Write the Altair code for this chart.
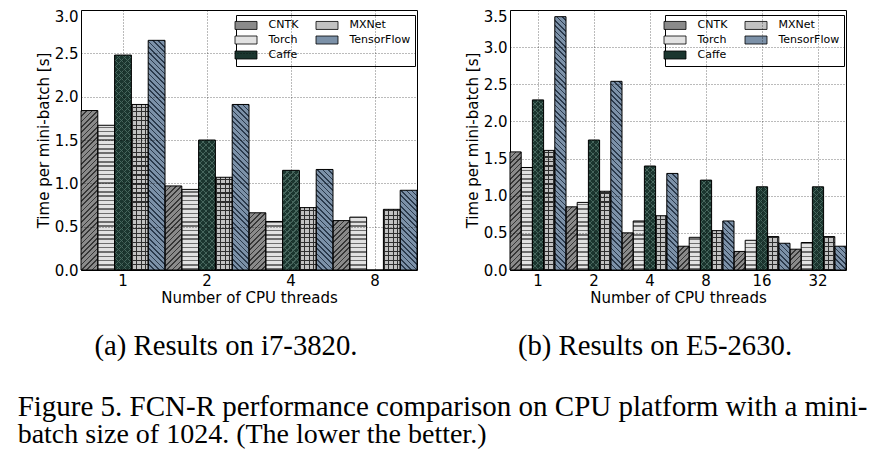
import altair as alt
import pandas as pd

# ---------------- data ----------------
FRAMEWORKS = ["CNTK", "Torch", "Caffe", "MXNet", "TensorFlow"]

THREADS_A = ["1", "2", "4", "8"]
CNTK_A = [1.84, 0.97, 0.66, 0.57]
TORCH_A = [1.67, 0.93, 0.56, 0.61]
CAFFE_A = [2.48, 1.50, 1.15, 0.00]
MXNET_A = [1.91, 1.07, 0.72, 0.70]
TF_A = [2.65, 1.91, 1.16, 0.92]

THREADS_B = ["1", "2", "4", "8", "16", "32"]
CNTK_B = [1.59, 0.85, 0.50, 0.32, 0.25, 0.28]
TORCH_B = [1.38, 0.91, 0.66, 0.44, 0.40, 0.37]
CAFFE_B = [2.29, 1.75, 1.40, 1.21, 1.12, 1.12]
MXNET_B = [1.61, 1.06, 0.73, 0.53, 0.45, 0.45]
TF_B = [3.41, 2.54, 1.30, 0.66, 0.36, 0.32]

Y_TICKS_A = [0.0, 0.5, 1.0, 1.5, 2.0, 2.5, 3.0]
Y_TICKS_B = [0.0, 0.5, 1.0, 1.5, 2.0, 2.5, 3.0, 3.5]

CAPTION_A = "(a) Results on i7-3820."
CAPTION_B = "(b) Results on E5-2630."
FIG_CAPTION_1 = "Figure 5. FCN-R performance comparison on CPU platform with a mini-"
FIG_CAPTION_2 = "batch size of 1024. (The lower the better.)"

# ---------------- styles ----------------
BASE = {"CNTK": "#8a8a8a", "Torch": "#e2e2e2", "Caffe": "#1b362f",
        "MXNet": "#c2c2c2", "TensorFlow": "#7c91a8"}
LINE = {"CNTK": "#363636", "Torch": "#6e6e6e", "Caffe": "#47665d",
        "MXNet": "#2e2e2e", "TensorFlow": "#2b3a4c"}
# (direction, period px, line fraction)
HATCH = {
    "CNTK": [("/", 5.3, 0.32)],
    "Torch": [("-", 4.3, 0.35)],
    "Caffe": [("/", 6.0, 0.2), ("\\", 6.0, 0.2)],
    "MXNet": [("-", 4.5, 0.25), ("|", 4.6, 0.25)],
    "TensorFlow": [("\\", 5.3, 0.32)],
}
PLOT_W, PLOT_H = 336, 260
CLEAR = "'rgba(0,0,0,0)'"


def stops(color, n, frac):
    parts = []
    for i in range(n):
        o0 = round(i / n, 5)
        o1 = round((i + frac) / n, 5)
        o2 = round((i + 1) / n, 5)
        parts.append("{'offset':%s,'color':'%s'}" % (o0, color))
        parts.append("{'offset':%s,'color':'%s'}" % (o1, color))
        parts.append("{'offset':%s,'color':%s}" % (o1, CLEAR))
        parts.append("{'offset':%s,'color':%s}" % (o2, CLEAR))
    return "[" + ",".join(parts) + "]"


def grad_expr(kind, period, frac, color, w, hs):
    h = "max(datum.value*%.6f,1)" % hs
    if kind == "-":
        n = int(300 / period) + 1
        coords = "'x1':0,'y1':1,'x2':0,'y2':1-%.4f/%s" % (period * n, h)
    elif kind == "|":
        n = int(w / period) + 2
        coords = "'x1':0,'y1':0,'x2':%.6f,'y2':0" % (period * n / w)
    else:
        n = int((w + 300) / period) + 1
        L = period * n
        den = "(%.4f+%s*%s)" % (w * w, h, h)
        if kind == "/":
            coords = "'x1':0,'y1':0,'x2':%.4f/%s,'y2':%.4f*%s/%s" % (L * w, den, L, h, den)
        else:
            coords = "'x1':0,'y1':1,'x2':%.4f/%s,'y2':1-%.4f*%s/%s" % (L * w, den, L, h, den)
    return "{'gradient':'linear'," + coords + ",'stops':" + stops(color, n, frac) + "}"


def pick(exprs):
    s = CLEAR
    for fw, e in reversed(list(exprs.items())):
        s = "(datum.fw=='%s'?%s:%s)" % (fw, e, s)
    return s


def panel(threads, series, ymax, yticks, caption):
    rows = []
    for fw, vals in zip(FRAMEWORKS, series):
        for t, v in zip(threads, vals):
            rows.append({"threads": t, "fw": fw, "value": v})
    df = pd.DataFrame(rows)
    w = PLOT_W / len(threads) / len(FRAMEWORKS)
    hs = PLOT_H / ymax

    g1 = pick({fw: grad_expr(*HATCH[fw][0], LINE[fw], w, hs) for fw in FRAMEWORKS})
    g2 = pick({fw: grad_expr(*HATCH[fw][1], LINE[fw], w, hs)
               for fw in FRAMEWORKS if len(HATCH[fw]) > 1})

    x = alt.X("threads:N", sort=threads, title="Number of CPU threads",
              scale=alt.Scale(paddingInner=0, paddingOuter=0),
              axis=alt.Axis(labelAngle=0, labelPadding=3, titlePadding=2,
                            grid=True, bandPosition=0.5, zindex=1))
    xo = alt.XOffset("fw:N", sort=FRAMEWORKS,
                     scale=alt.Scale(paddingInner=0, paddingOuter=0))
    y = alt.Y("value:Q", stack=None, title="Time per mini-batch [s]",
              scale=alt.Scale(domain=[0, ymax], nice=False, zero=True),
              axis=alt.Axis(values=yticks, format=".1f", labelPadding=3,
                            titlePadding=3, grid=True, zindex=1,
                            labelOffset={"condition": {"test": "datum.value == %s" % ymax,
                                                       "value": 6}, "value": 0}))
    base = alt.Chart(df).encode(x=x, xOffset=xo, y=y)

    solid = base.mark_bar().encode(
        color=alt.Color("fw:N",
                        scale=alt.Scale(domain=FRAMEWORKS,
                                        range=[BASE[f] for f in FRAMEWORKS]),
                        legend=alt.Legend(title=None, orient="none",
                                          legendX=155, legendY=5, columns=2,
                                          symbolType="M-2.75,-1H2.75V1H-2.75Z",
                                          symbolSize=64, symbolStrokeColor="black",
                                          symbolStrokeWidth=0.8,
                                          labelFont="DejaVu Sans", labelFontSize=11,
                                          labelColor="black", labelOffset=17,
                                          columnPadding=15, rowPadding=2, padding=4.5,
                                          strokeColor="black", fillColor="white")))
    hatch1 = base.mark_bar().transform_calculate(g1=g1).encode(
        fill=alt.Fill("g1:N", scale=None))
    hatch2 = base.mark_bar().transform_filter(
        "datum.fw=='Caffe' || datum.fw=='MXNet'").transform_calculate(g2=g2).encode(
        fill=alt.Fill("g2:N", scale=None))
    outline = base.mark_bar(fillOpacity=0, stroke="black", strokeWidth=1)

    return alt.layer(solid, hatch1, hatch2, outline).properties(
        width=PLOT_W, height=PLOT_H,
        title=alt.TitleParams(caption, orient="bottom", anchor="middle",
                              font="Liberation Serif", fontSize=28.7,
                              fontWeight="normal", color="black",
                              baseline="alphabetic", dx=-23, offset=50))


pa = panel(THREADS_A, [CNTK_A, TORCH_A, CAFFE_A, MXNET_A, TF_A], 3.0, Y_TICKS_A, CAPTION_A)
pb = panel(THREADS_B, [CNTK_B, TORCH_B, CAFFE_B, MXNET_B, TF_B], 3.5, Y_TICKS_B, CAPTION_B)

chart = alt.hconcat(pa, pb, spacing=46).resolve_scale(
    color="independent", x="independent", y="independent", xOffset="independent"
).resolve_legend(color="independent").properties(
    padding={"left": 9, "top": 0, "right": 0, "bottom": 0},
    title=alt.TitleParams(FIG_CAPTION_1, subtitle=FIG_CAPTION_2, orient="bottom",
                          anchor="start", frame="bounds",
                          font="Liberation Serif", fontSize=29, fontWeight="normal",
                          color="black", baseline="alphabetic",
                          subtitleFont="Liberation Serif", subtitleFontSize=28,
                          subtitleColor="black", subtitlePadding=-2,
                          dx=-18, offset=55)
).configure_axis(
    labelFont="DejaVu Sans", titleFont="DejaVu Sans", labelFontSize=15,
    titleFontSize=15, labelColor="black", titleColor="black",
    titleFontWeight="normal", domain=False, ticks=False,
    gridColor="black", gridDash=[1, 2], gridWidth=0.6, gridOpacity=0.9
).configure_view(stroke="black", strokeWidth=1)

chart.save("out.html", embed_options={"renderer": "svg", "actions": False})
